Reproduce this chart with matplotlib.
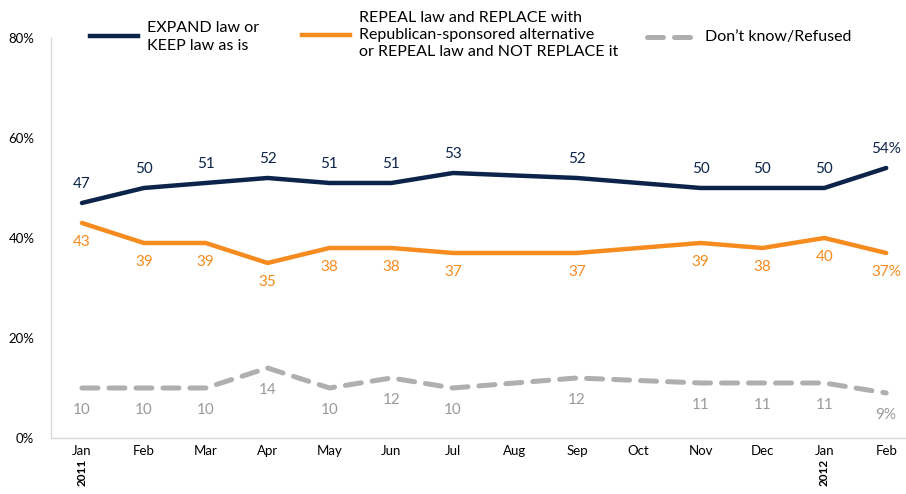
import numpy as np
import matplotlib.pyplot as plt
from matplotlib.lines import Line2D

plt.rcParams['font.family'] = ['Lato', 'DejaVu Sans']

# months on the axis (Jan 2011 .. Feb 2012)
months = ['Jan', 'Feb', 'Mar', 'Apr', 'May', 'Jun', 'Jul', 'Aug', 'Sep',
          'Oct', 'Nov', 'Dec', 'Jan', 'Feb']
# survey months (indices into months), Aug and Oct have no survey
survey_idx = [0, 1, 2, 3, 4, 5, 6, 8, 10, 11, 12, 13]

expand_keep = [47, 50, 51, 52, 51, 51, 53, 52, 50, 50, 50, 54]
repeal = [43, 39, 39, 35, 38, 38, 37, 37, 39, 38, 40, 37]
dont_know = [10, 10, 10, 14, 10, 12, 10, 12, 11, 11, 11, 9]

yticks = [0, 20, 40, 60, 80]

NAVY = '#0C2449'
ORANGE = '#F68B1F'
GRAY = '#AFAFAF'

fig = plt.figure(figsize=(9.06, 4.94), dpi=100)
ax = fig.add_axes([0.0563, 0.1134, 0.9437, 0.8097])

x = np.array(survey_idx)
ax.plot(x, expand_keep, color=NAVY, lw=3.2, solid_capstyle='round')
ax.plot(x, repeal, color=ORANGE, lw=3.2, solid_capstyle='round')
ax.plot(x, dont_know, color=GRAY, lw=3.6, ls=(0, (3.2, 2.2)),
        dash_capstyle='round')

n = len(x)
for i in range(n):
    suf = '%' if i == n - 1 else ''
    ax.annotate(f'{expand_keep[i]}{suf}', (x[i], expand_keep[i]),
                xytext=(0, 13.5), textcoords='offset points', ha='center',
                va='center', color=NAVY, fontsize=11)
    ax.annotate(f'{repeal[i]}{suf}', (x[i], repeal[i]),
                xytext=(0, -13.5), textcoords='offset points', ha='center',
                va='center', color=ORANGE, fontsize=11)
    ax.annotate(f'{dont_know[i]}{suf}', (x[i], dont_know[i]),
                xytext=(0, -16), textcoords='offset points', ha='center',
                va='center', color='#9A9A9A', fontsize=11)

ax.set_xlim(-0.5, 13.32)
ax.set_ylim(0, 80)
ax.set_xticks(range(len(months)))
ax.set_xticklabels(months, fontsize=9.5)
ax.set_yticks(yticks)
ax.set_yticklabels([f'{v}%' for v in yticks], fontsize=9.5)
ax.tick_params(length=0, pad=5)
ax.tick_params(axis='y', pad=12)
for s in ['top', 'right']:
    ax.spines[s].set_visible(False)
for s in ['left', 'bottom']:
    ax.spines[s].set_color('#D9D9D9')
    ax.spines[s].set_linewidth(1)

# year labels
for i, yr in [(0, '2011'), (12, '2012')]:
    ax.annotate(yr, (i, 0), xytext=(0, -15), textcoords='offset points',
                ha='center', va='top', rotation=90, fontsize=8.5,
                fontweight='bold')

# legend drawn by hand
def fx(px):
    return px / 906


def fy(py):
    return 1 - py / 494


fig.add_artist(Line2D([fx(90), fx(138)], [fy(36), fy(36)], color=NAVY, lw=3.2))
fig.text(fx(147), fy(37), 'EXPAND law or\nKEEP law as is', fontsize=11.5,
         va='center', ha='left', linespacing=1.3)
fig.add_artist(Line2D([fx(302), fx(350)], [fy(35), fy(35)], color=ORANGE, lw=3.2))
fig.text(fx(359), fy(35), 'REPEAL law and REPLACE with\nRepublican-sponsored alternative\n'
         'or REPEAL law and NOT REPLACE it', fontsize=11.5, va='center', ha='left',
         linespacing=1.3)
fig.add_artist(Line2D([fx(647), fx(695)], [fy(37), fy(37)], color=GRAY, lw=3.6,
                      ls=(0, (3.2, 2.2)), dash_capstyle='round'))
fig.text(fx(705), fy(37), 'Don\u2019t know/Refused', fontsize=11.5, va='center',
         ha='left')

fig.savefig('out.png', dpi=100)
